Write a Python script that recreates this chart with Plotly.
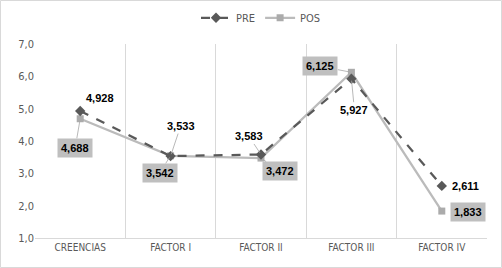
import plotly.graph_objects as go

categories = ["CREENCIAS", "FACTOR I", "FACTOR II", "FACTOR III", "FACTOR IV"]
pre_values = [4.928, 3.533, 3.583, 5.927, 2.611]
pos_values = [4.688, 3.542, 3.472, 6.125, 1.833]

# label offsets (pixels) and whether a leader line is drawn
pre_offsets = [(20, -13, False), (10, -30, True), (-12, -18, True), (3, 31, True), (24, 0, False)]
pos_offsets = [(-5, 29, True), (-11, 17, True), (19, 13, True), (-31, -6, True), (26, 1, False)]

PRE_COLOR = "#595959"
POS_LINE = "#BBBBBB"
POS_MARKER = "#ABABAB"


def fmt(v):
    return f"{v:.3f}".replace(".", ",")


fig = go.Figure()
fig.add_trace(go.Scatter(
    x=categories, y=pos_values, name="POS", mode="lines+markers",
    line=dict(color=POS_LINE, width=2.25),
    marker=dict(symbol="square", size=7, color=POS_MARKER),
    legendrank=2,
))
fig.add_trace(go.Scatter(
    x=categories, y=pre_values, name="PRE", mode="lines+markers",
    line=dict(color=PRE_COLOR, width=2.25, dash="dash"),
    marker=dict(symbol="diamond", size=8, color=PRE_COLOR),
    legendrank=1,
))

label_font = dict(family="Liberation Sans, Arial", size=11, color="black")

for cat, v, (dx, dy, leader) in zip(categories, pre_values, pre_offsets):
    if leader:
        fig.add_annotation(x=cat, y=v, text=f"<b>{fmt(v)}</b>", showarrow=True,
                           arrowhead=0, arrowwidth=0.8, arrowcolor="#A6A6A6",
                           ax=dx, ay=dy, font=label_font, standoff=2)
    else:
        fig.add_annotation(x=cat, y=v, text=f"<b>{fmt(v)}</b>", showarrow=False,
                           xshift=dx, yshift=-dy, font=label_font)

for cat, v, (dx, dy, leader) in zip(categories, pos_values, pos_offsets):
    common = dict(x=cat, y=v, text=f"<b>{fmt(v)}</b>", font=label_font,
                  bgcolor="#BFBFBF", borderpad=3)
    if leader:
        fig.add_annotation(**common, showarrow=True, arrowhead=0, arrowwidth=0.8,
                           arrowcolor="#A6A6A6", ax=dx, ay=dy, standoff=2)
    else:
        fig.add_annotation(**common, showarrow=False, xshift=dx, yshift=-dy)

# outer chart border
fig.add_shape(type="rect", xref="paper", yref="paper",
              x0=-34.5 / 452, x1=1 + 14.5 / 452, y0=-29.5 / 194, y1=1 + 43.5 / 194,
              line=dict(color="#D9D9D9", width=1), fillcolor="rgba(0,0,0,0)", layer="below")

fig.update_layout(
    width=502, height=268,
    margin=dict(l=35, r=15, t=44, b=30, autoexpand=False),
    paper_bgcolor="white", plot_bgcolor="white",
    separators=",.",
    hovermode=False,
    font=dict(family="DejaVu Sans Condensed, Arial", color="#595959"),
    showlegend=True,
    legend=dict(orientation="h", x=0.5, xanchor="center", y=1.135, yanchor="middle",
                font=dict(size=11, color="#595959"), bgcolor="rgba(0,0,0,0)",
                itemwidth=30),
    xaxis=dict(type="category", tickson="boundaries", showgrid=True, gridcolor="#D9D9D9",
               gridwidth=1, showline=True, linecolor="#D9D9D9", ticks="",
               tickfont=dict(size=10, color="#595959"), range=[-0.5, 4.5],
               zeroline=False, automargin=False),
    yaxis=dict(range=[1, 7], dtick=1, tickformat=".1f", showgrid=False, zeroline=False,
               showline=False, ticks="", tickfont=dict(size=11, color="#595959"),
               automargin=False),
)

fig.write_html("out.html", config={"displayModeBar": False, "staticPlot": True},
               post_script="document.body.style.margin='0';")
